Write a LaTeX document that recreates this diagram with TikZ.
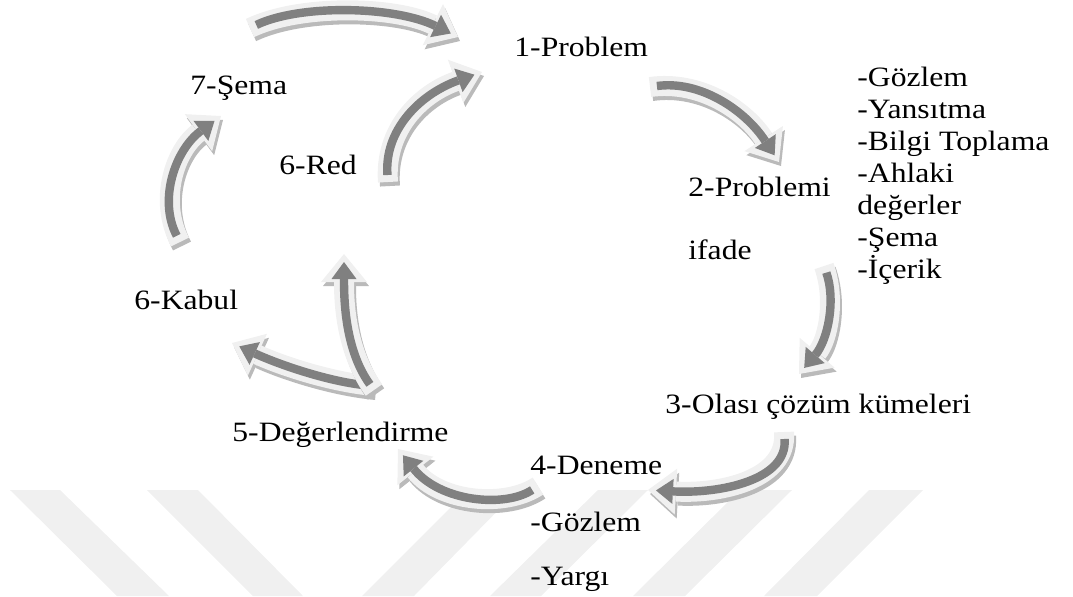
\documentclass[tikz,border=0pt]{standalone}
\usepackage{fontspec}
\setmainfont{Liberation Serif}[FakeStretch=1.13]
\usetikzlibrary{arrows.meta}
\tikzset{
  lbl/.style={anchor=base west, inner sep=0pt, font=\fontsize{14}{16}\selectfont},
  arrout/.style={draw=black!6, line width=10pt, -{Triangle[width=23pt,length=14pt,line width=0pt]}},
  arrin/.style={draw=black!50, line width=4.2pt, shorten >=4pt, shorten <=3.5pt, -{Triangle[width=12.5pt,length=8.5pt,line width=0pt]}},
  arrsh/.style={draw=black!27, line width=10pt, -{Triangle[width=23pt,length=14pt,line width=0pt]}, transform canvas={xshift=1pt,yshift=-2pt}},
  stripe/.style={fill=black!6, draw=none}
}
\newcommand\blockarrow[1]{%
  \draw[arrsh] #1;
  \draw[arrout] #1;
  \draw[arrin] #1;
}
\begin{document}
\begin{tikzpicture}[x=0.5pt,y=-0.5pt]
\useasboundingbox (0,0) rectangle (1073,596);
% watermark stripes
\fill[stripe] (10,490) -- (60,490) -- (169,596) -- (117,596) -- cycle;
\fill[stripe] (147,490) -- (198,490) -- (303,596) -- (253,596) -- cycle;
\fill[stripe] (468,490) -- (518,490) -- (414,596) -- (362,596) -- cycle;
\fill[stripe] (598,490) -- (648,490) -- (541,596) -- (490,596) -- cycle;
\fill[stripe] (740,490) -- (792,490) -- (685,596) -- (633,596) -- cycle;
\fill[stripe] (869,490) -- (923,490) -- (817,596) -- (764,596) -- cycle;

% labels
\node[lbl] (sema) at (190,94) {7-Şema};
\node[lbl] (problem) at (514,56) {1-Problem};
\node[lbl] (l1) at (857,86) {-Gözlem};
\node[lbl] (l2) at (857,118) {-Yansıtma};
\node[lbl] (l3) at (857,150) {-Bilgi Toplama};
\node[lbl] (l4) at (857,182) {-Ahlaki};
\node[lbl] (l5) at (857,214) {değerler};
\node[lbl] (l6) at (857,246) {-Şema};
\node[lbl] (l7) at (857,278) {-İçerik};
\node[lbl] (ifade1) at (688,196) {2-Problemi};
\node[lbl] (ifade2) at (688,259) {ifade};
\node[lbl] (red) at (279,174) {6-Red};
\node[lbl] (kabul) at (134,309) {6-Kabul};
\node[lbl] (olasi) at (665,413) {3-Olası çözüm kümeleri};
\node[lbl] (deger) at (232,441) {5-Değerlendirme};
\node[lbl] (deneme) at (530,474) {4-Deneme};
\node[lbl] (gozlem) at (530,531) {-Gözlem};
\node[lbl] (yargi) at (530,585) {-Yargı};

% arrow end points
\coordinate (a1s) at (250,28);  \coordinate (a1e) at (458,37);
\coordinate (a2s) at (650,87);  \coordinate (a2e) at (779,162);
\coordinate (a3s) at (824,266); \coordinate (a3e) at (799,374);
\coordinate (a4s) at (784,432); \coordinate (a4e) at (648,490);
\coordinate (a5s) at (538,486); \coordinate (a5e) at (398,449);
\coordinate (a6s) at (374,386); \coordinate (a6e) at (232,343);
\coordinate (a7s) at (374,390); \coordinate (a7e) at (344,254);
\coordinate (a8s) at (180,242); \coordinate (a8e) at (221,116);
\coordinate (a9s) at (388,182); \coordinate (a9e) at (482,72);

\blockarrow{(a1s) .. controls (300,4) and (395,6) .. (a1e)}
\blockarrow{(a2s) .. controls (700,80) and (745,110) .. (a2e)}
\blockarrow{(a3s) .. controls (836,300) and (828,340) .. (a3e)}
\blockarrow{(a4s) .. controls (788,480) and (720,494) .. (a4e)}
\blockarrow{(a5s) .. controls (505,508) and (440,502) .. (a5e)}
\blockarrow{(a6s) .. controls (330,382) and (280,365) .. (a6e)}
\blockarrow{(a7s) .. controls (345,350) and (344,300) .. (a7e)}
\blockarrow{(a8s) .. controls (158,200) and (175,150) .. (a8e)}
\blockarrow{(a9s) .. controls (384,130) and (420,94) .. (a9e)}
\end{tikzpicture}
\end{document}
